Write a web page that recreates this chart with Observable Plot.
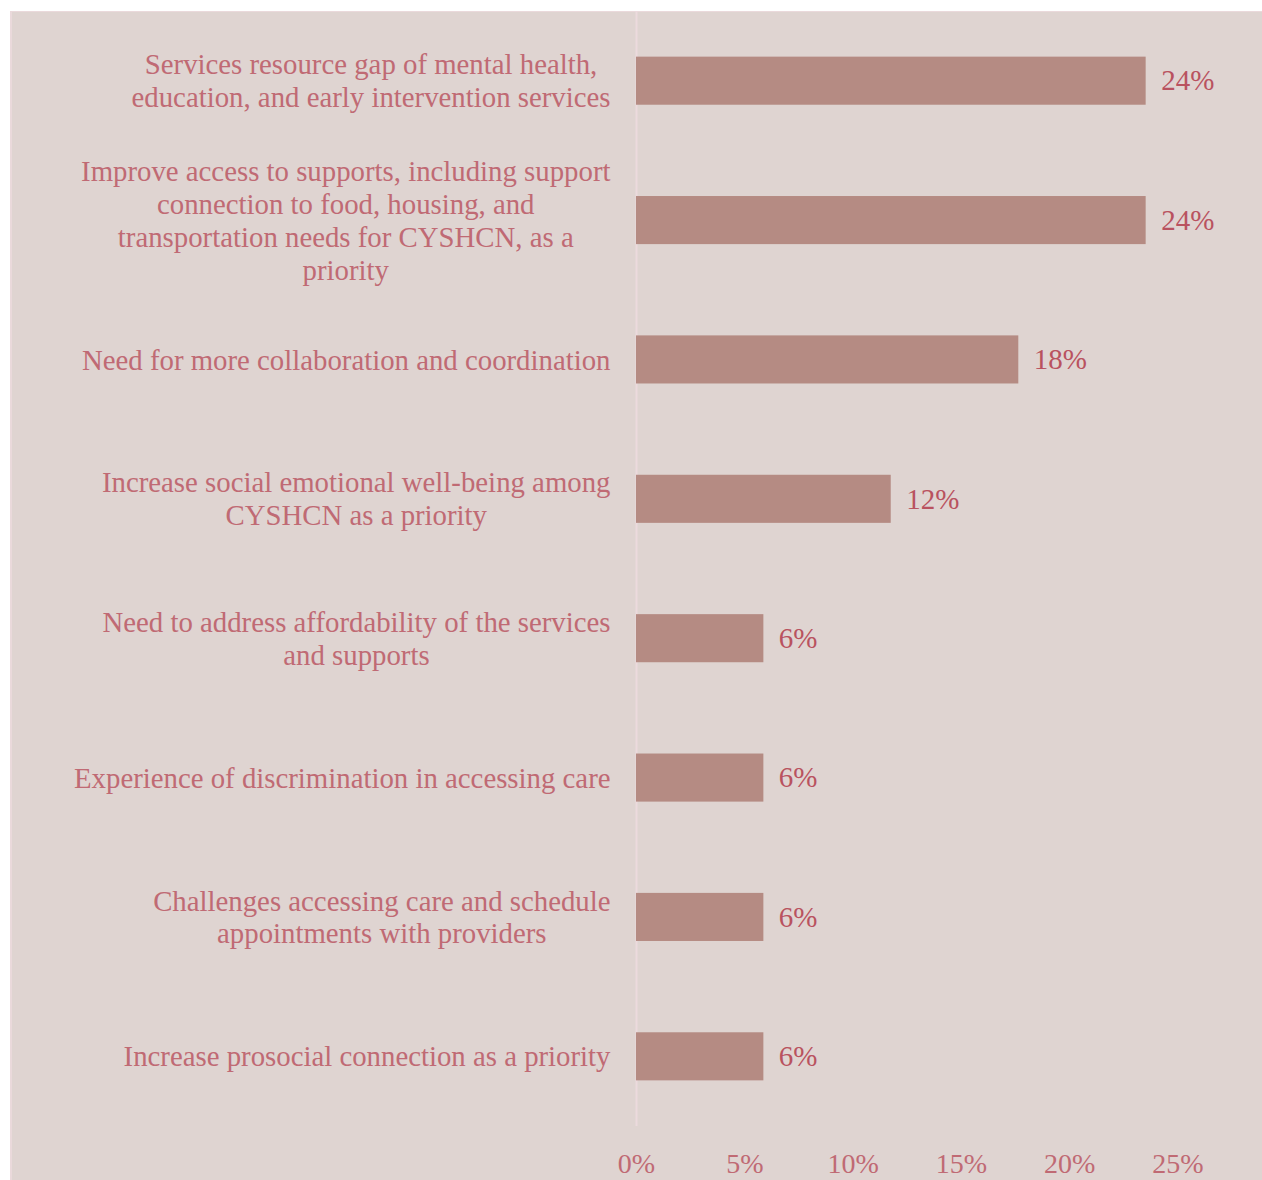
<!DOCTYPE html>
<html>
<head>
<meta charset="utf-8">
<script src="https://cdn.jsdelivr.net/npm/d3@7"></script>
<script src="https://cdn.jsdelivr.net/npm/@observablehq/plot@0.6"></script>
<style>
  html, body { margin: 0; padding: 0; background: #ffffff; }
  #panel {
    position: absolute;
    left: 10px;
    top: 11px;
    width: 1252px;
    height: 1169px;
    background: #dfd4d1;
    box-shadow: inset 2px 1px 0 #ead9db;
  }
  #panel svg { display: block; background: transparent; }
</style>
</head>
<body>
<div id="panel"></div>
<script>
// Priority themes, top to bottom (line breaks as wrapped in the label column)
const categories = [
  "Services resource gap of mental health,\neducation, and early intervention services",
  "Improve access to supports, including support\nconnection to food, housing, and\ntransportation needs for CYSHCN, as a\npriority",
  "Need for more collaboration and coordination",
  "Increase social emotional well-being among\nCYSHCN as a priority",
  "Need to address affordability of the services\nand supports",
  "Experience of discrimination in accessing care",
  "Challenges accessing care and schedule\nappointments with providers",
  "Increase prosocial connection as a priority"
];

// Share of responses per theme
const shares = [0.2353, 0.2353, 0.1765, 0.1176, 0.0588, 0.0588, 0.0588, 0.0588];

// Percent ticks along the bottom
const xTicks = [0, 0.05, 0.10, 0.15, 0.20, 0.25];

const data = categories.map((category, i) => ({category, share: shares[i]}));

const FONT = '"Liberation Serif", "Times New Roman", serif';
const labelSize = 28.8;
const tickSize = 28;
const labelColor = "#c06a74";
const valueColor = "#b9525f";
const barColor = "#b58b83";
const labelGap = 26;
const pct = d3.format(".0%");

// Measure each wrapped label so its lines can be centred on its own block,
// with the block's right edge a fixed gap left of the axis.
const ctx = document.createElement("canvas").getContext("2d");
ctx.font = `${labelSize}px ${FONT}`;
const labelMarks = data.map(d => {
  const widest = d3.max(d.category.split("\n"), s => ctx.measureText(s).width);
  return Plot.text([d], {
    x: () => 0,
    y: "category",
    text: "category",
    textAnchor: "middle",
    lineAnchor: "middle",
    lineHeight: 33 / labelSize,
    dx: -(labelGap + widest / 2),
    dy: -1,
    fill: labelColor,
    fontSize: labelSize
  });
});

const chart = Plot.plot({
  width: 1252,
  height: 1169,
  marginLeft: 626,
  marginRight: 84.5,
  marginTop: 0,
  marginBottom: 54,
  style: {fontFamily: FONT, background: "transparent", overflow: "visible"},
  x: {domain: [0, 0.25], ticks: xTicks, tickFormat: pct, label: null},
  y: {domain: categories, paddingInner: 0.655, paddingOuter: 0.3275, round: false, axis: null},
  marks: [
    // zero line running the full height of the plot area
    Plot.ruleX([0], {stroke: "#ecdadd", strokeWidth: 2}),
    Plot.barX(data, {x: "share", y: "category", fill: barColor}),
    Plot.text(data, {
      x: "share",
      y: "category",
      text: d => pct(d.share),
      textAnchor: "start",
      dx: 15,
      fill: valueColor,
      fontSize: tickSize + 1
    }),
    ...labelMarks,
    Plot.axisX({
      ticks: xTicks,
      tickFormat: pct,
      tickSize: 0,
      tickPadding: 27,
      fontSize: tickSize,
      fill: labelColor,
      label: null
    })
  ]
});

document.getElementById("panel").appendChild(chart);
</script>
</body>
</html>
